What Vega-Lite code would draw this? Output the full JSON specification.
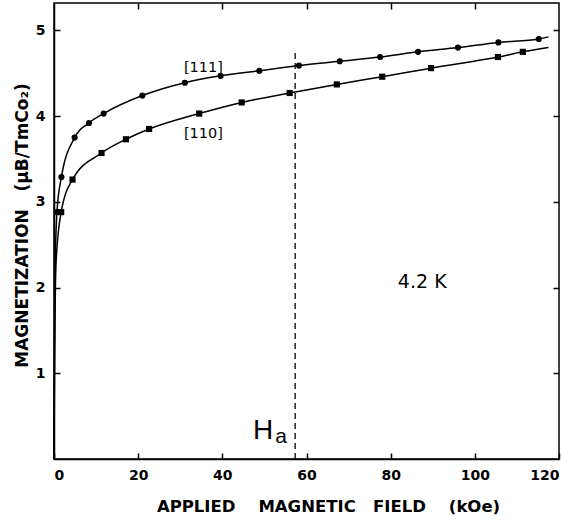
{
  "$schema": "https://vega.github.io/schema/vega-lite/v6.json",
  "width": 505,
  "height": 456,
  "autosize": {"type": "none"},
  "padding": {"left": 54, "top": 3, "right": 20, "bottom": 64},
  "background": "white",
  "config": {
    "view": {"stroke": "black", "strokeWidth": 1.5},
    "axis": {"grid": false, "domainColor": "black", "tickColor": "black", "domainWidth": 1.5, "tickWidth": 1.5,
             "labelColor": "black", "titleColor": "black", "labelFont": "DejaVu Sans", "labelFontWeight": "bold",
             "labelFontSize": 14, "titleFont": "DejaVu Sans", "titleFontWeight": "bold", "titleFontSize": 16.5}
  },
  "datasets": {
    "curves": [
      {"dir": "[111]", "H": 0, "M": 0, "marker": false},
      {"dir": "[111]", "H": 0.1, "M": 1.2, "marker": false},
      {"dir": "[111]", "H": 0.3, "M": 2.3, "marker": false},
      {"dir": "[111]", "H": 0.7, "M": 2.88, "marker": true},
      {"dir": "[111]", "H": 1.76, "M": 3.29, "marker": true},
      {"dir": "[111]", "H": 4.9, "M": 3.75, "marker": true},
      {"dir": "[111]", "H": 8.3, "M": 3.92, "marker": true},
      {"dir": "[111]", "H": 11.8, "M": 4.03, "marker": true},
      {"dir": "[111]", "H": 21.0, "M": 4.24, "marker": true},
      {"dir": "[111]", "H": 31.1, "M": 4.39, "marker": true},
      {"dir": "[111]", "H": 39.6, "M": 4.47, "marker": true},
      {"dir": "[111]", "H": 48.8, "M": 4.53, "marker": true},
      {"dir": "[111]", "H": 58.2, "M": 4.59, "marker": true},
      {"dir": "[111]", "H": 67.9, "M": 4.64, "marker": true},
      {"dir": "[111]", "H": 77.5, "M": 4.69, "marker": true},
      {"dir": "[111]", "H": 86.5, "M": 4.75, "marker": true},
      {"dir": "[111]", "H": 96.0, "M": 4.8, "marker": true},
      {"dir": "[111]", "H": 105.6, "M": 4.86, "marker": true},
      {"dir": "[111]", "H": 115.2, "M": 4.9, "marker": true},
      {"dir": "[111]", "H": 117.5, "M": 4.925, "marker": false},
      {"dir": "[110]", "H": 0, "M": 0, "marker": false},
      {"dir": "[110]", "H": 0.15, "M": 1.2, "marker": false},
      {"dir": "[110]", "H": 0.5, "M": 2.3, "marker": false},
      {"dir": "[110]", "H": 1.7, "M": 2.88, "marker": true},
      {"dir": "[110]", "H": 4.4, "M": 3.26, "marker": true},
      {"dir": "[110]", "H": 11.3, "M": 3.57, "marker": true},
      {"dir": "[110]", "H": 17.1, "M": 3.73, "marker": true},
      {"dir": "[110]", "H": 22.6, "M": 3.85, "marker": true},
      {"dir": "[110]", "H": 34.5, "M": 4.03, "marker": true},
      {"dir": "[110]", "H": 44.6, "M": 4.16, "marker": true},
      {"dir": "[110]", "H": 56.0, "M": 4.27, "marker": true},
      {"dir": "[110]", "H": 67.2, "M": 4.37, "marker": true},
      {"dir": "[110]", "H": 78.0, "M": 4.46, "marker": true},
      {"dir": "[110]", "H": 89.6, "M": 4.56, "marker": true},
      {"dir": "[110]", "H": 105.5, "M": 4.69, "marker": true},
      {"dir": "[110]", "H": 111.4, "M": 4.75, "marker": true},
      {"dir": "[110]", "H": 117.5, "M": 4.8, "marker": false}
    ],
    "ha": [{"H": 57.3, "M0": 0, "M1": 4.74}],
    "labels": [
      {"text": "[111]", "H": 35.5, "M": 4.52},
      {"text": "[110]", "H": 35.5, "M": 3.75}
    ],
    "temp": [{"text": "4.2 K", "H": 87.5, "M": 2.0}],
    "hlab": [{"text": "H", "H": 47.3, "M": 0.233}],
    "alab": [{"text": "a", "H": 52.6, "M": 0.19}]
  },
  "resolve": {"axis": {"x": "independent", "y": "independent"}},
  "layer": [
    {
      "data": {"name": "curves"},
      "mark": {"type": "line", "interpolate": "monotone", "color": "black", "strokeWidth": 1.5},
      "encoding": {
        "x": {"field": "H", "type": "quantitative", "scale": {"domain": [0, 120], "nice": false},
              "axis": {"orient": "bottom", "values": [0, 20, 40, 60, 80, 100, 120], "tickSize": -6, "labelPadding": 15,
                       "title": "APPLIED\u00a0\u00a0\u00a0\u00a0MAGNETIC\u00a0\u00a0\u00a0FIELD\u00a0\u00a0\u00a0\u00a0(kOe)", "titleX": 274, "titleY": 52.7,
                       "titleAlign": "center", "titleBaseline": "alphabetic"}},
        "y": {"field": "M", "type": "quantitative", "scale": {"domain": [0, 5.32], "nice": false},
              "axis": {"orient": "left", "values": [1, 2, 3, 4, 5], "tickSize": -6, "labelPadding": 15,
                       "title": "MAGNETIZATION\u00a0\u00a0\u00a0(μB/TmCo₂)", "titleX": -27, "titleY": 222, "titleFontSize": 17,
                       "titleAlign": "center", "titleBaseline": "alphabetic", "titleAngle": -90}},
        "detail": {"field": "dir"}
      }
    },
    {
      "data": {"name": "curves"},
      "transform": [{"filter": "datum.marker"}],
      "mark": {"type": "point", "filled": true, "color": "black", "opacity": 1},
      "encoding": {
        "x": {"field": "H", "type": "quantitative",
              "axis": {"orient": "top", "values": [20, 40, 60, 80, 100], "tickSize": -6, "labels": false, "domain": false, "title": null}},
        "y": {"field": "M", "type": "quantitative",
              "axis": {"orient": "right", "values": [1, 2, 3, 4, 5], "tickSize": -6, "labels": false, "domain": false, "title": null}},
        "shape": {"field": "dir", "type": "nominal", "scale": {"domain": ["[111]", "[110]"], "range": ["circle", "square"]}, "legend": null},
        "size": {"value": 38}
      }
    },
    {
      "data": {"name": "ha"},
      "mark": {"type": "rule", "color": "black", "strokeWidth": 1.3, "strokeDash": [6, 4]},
      "encoding": {
        "x": {"field": "H", "type": "quantitative", "axis": null},
        "y": {"field": "M0", "type": "quantitative", "axis": null},
        "y2": {"field": "M1"}
      }
    },
    {
      "data": {"name": "labels"},
      "mark": {"type": "text", "font": "DejaVu Sans", "fontSize": 14.5, "color": "black", "align": "center", "baseline": "alphabetic"},
      "encoding": {
        "x": {"field": "H", "type": "quantitative", "axis": null},
        "y": {"field": "M", "type": "quantitative", "axis": null},
        "text": {"field": "text"}
      }
    },
    {
      "data": {"name": "temp"},
      "mark": {"type": "text", "font": "DejaVu Sans", "fontSize": 19, "color": "black", "align": "center", "baseline": "alphabetic"},
      "encoding": {
        "x": {"field": "H", "type": "quantitative", "axis": null},
        "y": {"field": "M", "type": "quantitative", "axis": null},
        "text": {"field": "text"}
      }
    },
    {
      "data": {"name": "hlab"},
      "mark": {"type": "text", "font": "Liberation Sans", "fontSize": 28, "color": "black", "align": "left", "baseline": "alphabetic"},
      "encoding": {
        "x": {"field": "H", "type": "quantitative", "axis": null},
        "y": {"field": "M", "type": "quantitative", "axis": null},
        "text": {"field": "text"}
      }
    },
    {
      "data": {"name": "alab"},
      "mark": {"type": "text", "font": "Liberation Sans", "fontSize": 21, "color": "black", "align": "left", "baseline": "alphabetic"},
      "encoding": {
        "x": {"field": "H", "type": "quantitative", "axis": null},
        "y": {"field": "M", "type": "quantitative", "axis": null},
        "text": {"field": "text"}
      }
    }
  ]
}
